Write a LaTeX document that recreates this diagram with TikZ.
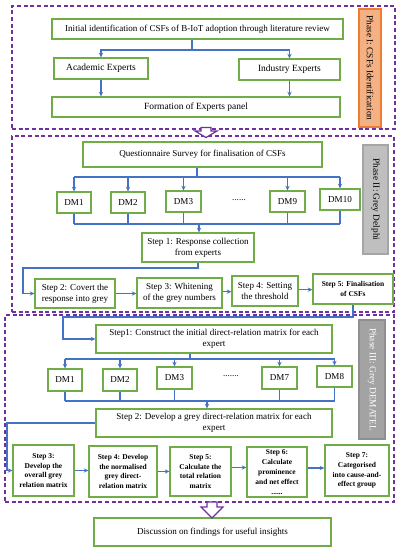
\documentclass[tikz,border=0pt]{standalone}
\usepackage{fontspec}
\setmainfont{Liberation Serif}
\usetikzlibrary{arrows.meta}
\definecolor{boxgreen}{HTML}{70AD47}
\definecolor{arrblue}{HTML}{4472C4}
\definecolor{phpurple}{HTML}{7030A0}
\definecolor{orfill}{HTML}{F4B183}
\definecolor{ordraw}{HTML}{ED7D31}
\definecolor{gfill}{HTML}{BFBFBF}
\definecolor{gdraw}{HTML}{A5A5A5}
\definecolor{g3fill}{HTML}{A3A3A3}
\definecolor{g3draw}{HTML}{8F8F8F}
\newcommand{\fsn}{\fontsize{6.8}{8}\selectfont}
\newcommand{\fse}{\fontsize{7.1}{8}\selectfont}
\newcommand{\fsb}{\fontsize{5.6}{7.4}\selectfont\bfseries}
\begin{document}
\begin{tikzpicture}[x=0.75pt,y=-0.75pt,
  bx/.style n args={4}{at={({(#1+#3)/2},{(#2+#4)/2})}, minimum width={(#3-#1)*0.75pt}, minimum height={(#4-#2)*0.75pt}},
  gbox/.style={draw=boxgreen, line width=0.9pt, fill=white, inner sep=0pt, align=center, font=\fsn},
  bl/.style={draw=arrblue, line width=0.8pt},
  arr/.style={bl, -{Stealth[length=3.5pt,width=3.2pt]}},
  phase/.style={draw=phpurple, line width=0.8pt, dash pattern=on 3pt off 2pt, inner sep=0pt},
  lab/.style={inner sep=0pt, line width=0.8pt, font=\fontsize{7}{8}\selectfont, rotate=-90},
  hollow/.style={draw=phpurple, line width=0.9pt, fill=white, line join=miter}
]
\useasboundingbox (0,0) rectangle (402,550);

% phase frames
\node[phase, bx={12}{6}{395}{129}] (p1) {};
\node[phase, bx={12}{136}{394}{312}] (p2) {};
\node[phase, bx={5}{315}{394}{502}] (p3) {};

% phase labels
\node[lab, draw=ordraw, fill=orfill, minimum width=88.5pt, minimum height=16.5pt] (l1) at (370,68) {Phase I: CSFs Identification};
\node[lab, draw=gdraw, fill=gfill, minimum width=81.75pt, minimum height=18.75pt] (l2) at (375.5,199.5) {Phase II: Grey Delphi};
\node[lab, draw=g3draw, fill=g3fill, text=white, minimum width=89.25pt, minimum height=19.5pt] (l3) at (372,379.5) {Phase III: Grey DEMATEL};

% ---- Phase I
\node[gbox, bx={52}{19}{343}{39}] (init) {Initial identification of CSFs of B-IoT adoption through literature review};
\node[gbox, font=\fse, bx={54}{58}{148}{79}] (acad) {Academic Experts};
\node[gbox, font=\fse, bx={239}{59}{340}{80}] (ind) {Industry Experts};
\node[gbox, font=\fse, bx={52}{97}{340}{117}] (form) {Formation of Experts panel};
\coordinate (b1) at (192,50);
\draw[bl] (b1 |- init.south) -- (b1);
\draw[arr] (b1) -| (acad.north);
\draw[arr] (b1) -| (ind.north);
\draw[arr] (acad.south) -- (acad.south |- form.north);
\draw[arr] (ind.south) -- (ind.south |- form.north);

% ---- Phase II
\node[gbox, bx={83}{142}{322}{167}] (quest) {Questionnaire Survey for finalisation of CSFs};
\node[gbox, bx={57}{192}{91}{213}] (dma) {DM1};
\node[gbox, bx={111}{192}{145}{213}] (dmb) {DM2};
\node[gbox, bx={166}{191}{201}{212}] (dmc) {DM3};
\node[font=\fsn] (dotsa) at (239,200) {......};
\node[gbox, bx={270}{191}{305}{212}] (dmd) {DM9};
\node[gbox, bx={320}{189}{360}{210}] (dme) {DM10};
\coordinate (b2) at (197,177);
\draw[bl] (b2 |- quest.south) -- (b2);
\draw[bl] (dma.north |- b2) -- (dme.north |- b2);
\foreach \n in {dma,dmb,dmc,dmd,dme} \draw[arr] (\n.north |- b2) -- (\n.north);
\node[gbox, bx={142}{233}{254}{262}] (sa) {Step 1: Response collection\\from experts};
\coordinate (b3) at (199,224);
\draw[bl] (dma.south |- b3) -- (dme.south |- b3);
\foreach \n in {dma,dmb,dmc,dmd,dme} \draw[bl] (\n.south) -- (\n.south |- b3);
\draw[arr] (b3) -- (b3 |- sa.north);
\node[gbox, bx={35}{279}{115}{308}] (sb) {Step 2: Covert the\\response into grey};
\node[gbox, bx={137}{278}{222}{308}] (sc) {Step 3: Whitening\\of the grey numbers};
\node[gbox, bx={232}{276}{298}{306}] (sd) {Step 4: Setting\\the threshold};
\node[gbox, font=\fsb, bx={313}{274}{393}{304}] (se) {Step 5: Finalisation\\of CSFs};
\coordinate (r1) at (23,268);
\draw[arr] (sa.south) |- (r1) |- (sb.west);
\draw[arr] (sb.east) -- (sb.east -| sc.west);
\draw[arr] ([yshift=1pt]sc.east) -- ([yshift=1pt]sc.east -| sd.west);
\draw[arr] ([yshift=1pt]sd.east) -- ([yshift=1pt]sd.east -| se.west);

% ---- Phase III
\node[gbox, bx={96}{325}{332}{353}] (da) {Step1: Construct the initial direct-relation matrix for each\\expert};
\coordinate (r2) at (63,317);
\draw[arr] (se.south) |- (r2) |- (da.west);
\node[gbox, bx={48}{369}{82}{391}] (ema) {DM1};
\node[gbox, bx={103}{369}{137}{391}] (emb) {DM2};
\node[gbox, bx={157}{367}{192}{389}] (emc) {DM3};
\node[font=\fsn] (dotsb) at (231,376) {.......};
\node[gbox, bx={262}{367}{297}{389}] (emd) {DM7};
\node[gbox, bx={317}{366}{352}{387}] (eme) {DM8};
\coordinate (b4) at (190,359);
\draw[bl] (b4 |- da.south) -- (b4);
\draw[bl] (ema.north |- b4) -- (eme.north |- b4);
\foreach \n in {ema,emb,emc,emd,eme} \draw[arr] (\n.north |- b4) -- (\n.north);
\node[gbox, bx={96}{409}{332}{437}] (db) {Step 2: Develop a grey direct-relation matrix for each\\expert};
\coordinate (b5) at (207,401);
\draw[bl] (ema.south |- b5) -- (eme.south |- b5);
\foreach \n in {ema,emb,emc,emd,eme} \draw[bl] (\n.south) -- (\n.south |- b5);
\draw[arr] (b5) -- (b5 |- db.north);
\node[gbox, font=\fsb, bx={13}{445}{74}{496}] (dc) {Step 3:\\Develop the\\overall grey\\relation matrix};
\node[gbox, font=\fsb, bx={89}{446}{157}{497}] (dd) {Step 4: Develop\\the normalised\\grey direct-\\relation matrix};
\node[gbox, font=\fsb, bx={170}{447}{231}{496}] (de) {Step 5:\\Calculate the\\total relation\\matrix};
\node[gbox, font=\fsb, bx={247}{447}{307}{497}] (df) {Step 6:\\Calculate\\prominence\\and net effect\\......};
\node[gbox, font=\fsb, bx={325}{445}{389}{496}] (dg) {Step 7:\\Categorised\\into cause-and-\\effect group};
\coordinate (r3) at (7,423);
\draw[arr] (db.west) -- (r3) |- (dc.west);
\draw[arr] (dc.east) -- (dc.east -| dd.west);
\draw[arr] (dd.east) -- (dd.east -| de.west);
\draw[arr] ([yshift=3pt]de.east) -- ([yshift=3pt]de.east -| df.west);
\draw[arr] ([yshift=3pt]df.east) -- ([yshift=3pt]df.east -| dg.west);

% ---- discussion
\node[gbox, bx={94}{518}{331}{546}] (disc) {Discussion on findings for useful insights};

% hollow block arrows
\draw[hollow] (201,127.5) -- (211,127.5) -- (211,131) -- (217,131) -- (206,137.5) -- (195,131) -- (201,131) -- cycle;
\draw[hollow] (207,502) -- (217,502) -- (217,507) -- (223,507) -- (212,518) -- (201,507) -- (207,507) -- cycle;
\end{tikzpicture}
\end{document}
